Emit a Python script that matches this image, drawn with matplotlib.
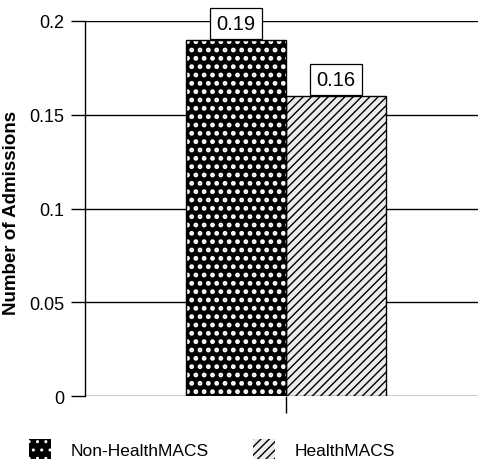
import matplotlib
matplotlib.use("Agg")
import matplotlib.pyplot as plt
from matplotlib.patches import Patch

plt.rcParams['font.family'] = ['Liberation Sans', 'DejaVu Sans']

groups = ["Non-HealthMACS", "HealthMACS"]
values = [0.19, 0.16]
value_labels = ["0.19", "0.16"]
yticks = [0, 0.05, 0.1, 0.15, 0.2]
ytick_labels = ["0", "0.05", "0.1", "0.15", "0.2"]
ylabel = "Number of Admissions"

W, H = 478, 464
fig = plt.figure(figsize=(W/100, H/100), dpi=100)
ax = fig.add_axes([85/W, 1-397/H, (W-85)/W, (397-22)/H])

positions = [-0.5, 0.5]
styles = [dict(facecolor='black', hatch='..', hatch_color='white', hlw=2.2),
          dict(facecolor='#ececec', hatch='////', hatch_color='black', hlw=1.0)]

for x, v, st in zip(positions, values, styles):
    plt.rcParams['hatch.linewidth'] = st['hlw']
    ax.bar(x, v, width=1.0, facecolor=st['facecolor'], edgecolor=st['hatch_color'],
           hatch=st['hatch'], linewidth=0, zorder=3)
    ax.bar(x, v, width=1.0, facecolor='none', edgecolor='black', linewidth=1.0, zorder=4)

fs_lab = 14.5
pad = 0.3
for x, v, t in zip(positions, values, value_labels):
    ax.annotate(t, (x, v), xytext=(0, pad*fs_lab + 0.5), textcoords='offset points', ha='center', va='bottom',
                fontsize=fs_lab, bbox=dict(boxstyle=f'square,pad={pad}', fc='white', ec='black', lw=0.9),
                zorder=5)

ax.set_xlim(-2.01, 1.92)
ax.set_ylim(0, 0.2)
ax.set_yticks(yticks)
ax.set_yticklabels(ytick_labels, fontsize=13)
ax.set_xticks([0])
ax.set_xticklabels([""])
ax.tick_params(axis='x', length=12, width=1, direction='out')
ax.tick_params(axis='y', length=10, width=1, direction='out', pad=5)
ax.yaxis.grid(True, color='black', linewidth=1.0, zorder=1)
ax.set_axisbelow(True)
for s in ['top', 'right']:
    ax.spines[s].set_visible(False)
ax.spines['left'].set_linewidth(1.0)
ax.spines['bottom'].set_visible(False)
ax.set_ylabel(ylabel, fontsize=13.5, fontweight='bold')
ax.yaxis.set_label_coords(-(85-20)/(W-85), 0.49)

plt.rcParams['hatch.linewidth'] = 2.2
h1 = Patch(facecolor=styles[0]['facecolor'], edgecolor=styles[0]['hatch_color'], hatch=styles[0]['hatch'], linewidth=0)
plt.rcParams['hatch.linewidth'] = 1.0
h2 = Patch(facecolor=styles[1]['facecolor'], edgecolor=styles[1]['hatch_color'], hatch=styles[1]['hatch'], linewidth=0)
fig.legend([h1, h2], groups, loc='center left', bbox_to_anchor=(13/W, 1-450/H), ncol=2, frameon=False,
           fontsize=12.5, handlelength=1.27, handleheight=1.4, handletextpad=1.15, columnspacing=2.55,
           borderaxespad=0.5, borderpad=0.4)

fig.savefig("out.png", dpi=100)
